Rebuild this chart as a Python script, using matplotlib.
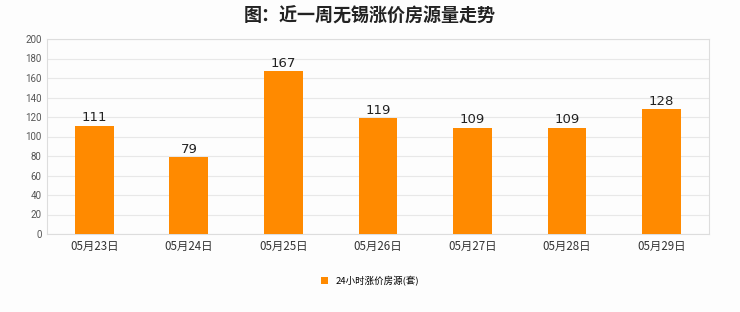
import matplotlib
matplotlib.use("Agg")
import matplotlib.pyplot as plt
from matplotlib.patches import Patch

plt.rcParams['font.family'] = ['Noto Sans CJK SC', 'DejaVu Sans']

# 数据
dates = ['05月23日', '05月24日', '05月25日', '05月26日', '05月27日', '05月28日', '05月29日']
counts = [111, 79, 167, 119, 109, 109, 128]
yticks = list(range(0, 201, 20))

bar_color = '#ff8a00'

fig = plt.figure(figsize=(7.4, 3.12), dpi=100, facecolor='#fdfdfd')
ax = fig.add_axes([0.0635, 0.25, 0.8945, 0.625])
ax.set_facecolor('#fdfdfd')

x = list(range(len(dates)))
bars = ax.bar(x, counts, width=0.41, color=bar_color, zorder=3)
for xi, v in zip(x, counts):
    ax.text(xi, v + 1.5, str(v), ha='center', va='bottom', fontsize=9.5,
            color='#222222', family=['DejaVu Sans'], zorder=4)

ax.set_xlim(-0.5, len(dates) - 0.5)
ax.set_ylim(0, 200)
ax.set_yticks(yticks)
ax.set_yticklabels([str(t) for t in yticks], fontsize=7, color='#555555', family=['Roboto'])
ax.set_xticks(x)
ax.set_xticklabels(dates, fontsize=8.3, color='#333333')
ax.tick_params(axis='both', length=0, pad=4)
ax.grid(axis='y', color='#e8e8e8', linewidth=0.8, zorder=0)
for s in ax.spines.values():
    s.set_color('#dddddd')
    s.set_linewidth(0.8)

fig.text(0.5, 0.948, '图：近一周无锡涨价房源量走势', ha='center', va='center',
         fontsize=13, fontweight='bold', color='#222222')

handle = Patch(facecolor=bar_color, edgecolor='none')
fig.legend([handle], ['24小时涨价房源(套)'], loc='center', bbox_to_anchor=(0.5, 0.1),
           frameon=False, fontsize=6.8, handlelength=0.7, handleheight=0.7,
           handletextpad=0.8)

fig.savefig('out.png', dpi=100, facecolor=fig.get_facecolor())
